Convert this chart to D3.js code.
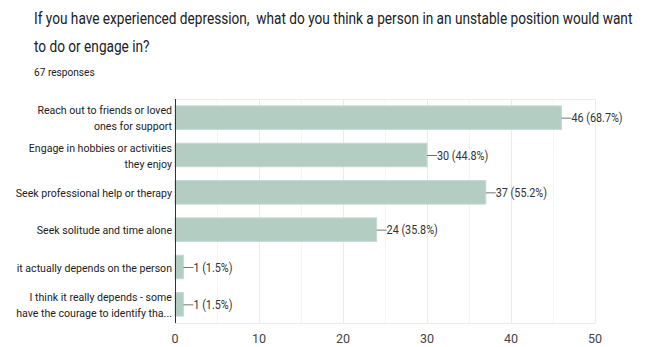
<!DOCTYPE html>
<html><head><meta charset="utf-8">
<script src="https://cdnjs.cloudflare.com/ajax/libs/d3/7.8.5/d3.min.js"></script>
<style>body{margin:0;background:#fff;} svg{display:block;}</style>
</head><body>
<script>
const titleLines = ["If you have experienced depression,  what do you think a person in an unstable position would want", "to do or engage in?"];
const subtitle = "67 responses";
const categories = [
  ["Reach out to friends or loved", "ones for support"],
  ["Engage in hobbies or activities", "they enjoy"],
  ["Seek professional help or therapy"],
  ["Seek solitude and time alone"],
  ["it actually depends on the person"],
  ["I think it really depends - some", "have the courage to identify tha..."]
];
const counts = [46, 30, 37, 24, 1, 1];
const percents = ["68.7%", "44.8%", "55.2%", "35.8%", "1.5%", "1.5%"];
const xTicks = [0, 10, 20, 30, 40, 50];
const minorTicks = [5, 15, 25, 35, 45];

const W = 652, H = 347;
const svg = d3.select("body").append("svg").attr("width", W).attr("height", H);

function squeeze(sel, f) {
  sel.each(function() {
    const w = this.getComputedTextLength();
    d3.select(this).attr("textLength", w * f).attr("lengthAdjust", "spacingAndGlyphs");
  });
}

const titleFont = "Roboto, 'Liberation Sans', Arial, sans-serif";
svg.selectAll("text.title").data(titleLines).join("text")
  .attr("class", "title")
  .attr("transform", (d, i) => `translate(34,${24 + i * 28}) scale(0.853,1)`)
  .attr("font-family", titleFont).attr("font-size", 16)
  .attr("fill", "#202124")
  .style("white-space", "pre")
  .text(d => d);
svg.append("text")
  .attr("transform", "translate(34,76) scale(0.88,1)")
  .attr("font-family", titleFont).attr("font-size", 11.5)
  .attr("fill", "#202124").text(subtitle);

const x = d3.scaleLinear().domain([0, 50]).range([175, 595]);
const y = d3.scaleBand().domain(d3.range(categories.length)).range([99, 323]).paddingInner(0.37).paddingOuter(0.185);

// grid
svg.append("g").selectAll("line").data(minorTicks).join("line")
  .attr("x1", d => x(d) + 0.5).attr("x2", d => x(d) + 0.5).attr("y1", 99).attr("y2", 323)
  .attr("stroke", "#f5f5f5");
svg.append("g").selectAll("line").data(xTicks.slice(1)).join("line")
  .attr("x1", d => x(d) + 0.5).attr("x2", d => x(d) + 0.5).attr("y1", 99).attr("y2", 323)
  .attr("stroke", "#ebebeb");
svg.append("line").attr("x1", 175).attr("x2", 595).attr("y1", 99.5).attr("y2", 99.5).attr("stroke", "#ebebeb");
svg.append("line").attr("x1", 175).attr("x2", 595).attr("y1", 323.5).attr("y2", 323.5).attr("stroke", "#ebebeb");

// bars
svg.append("g").selectAll("rect").data(counts).join("rect")
  .attr("x", x(0)).attr("y", (d, i) => y(i))
  .attr("width", d => x(d) - x(0)).attr("height", y.bandwidth())
  .attr("fill", "#b3cdc3").attr("stroke", "#c4dad1").attr("stroke-width", 1);

// value labels
const vl = svg.append("g").selectAll("g").data(counts).join("g");
vl.append("line").attr("x1", d => x(d)).attr("x2", d => x(d) + 10)
  .attr("y1", (d, i) => y(i) + y.bandwidth() / 2 + 0.5).attr("y2", (d, i) => y(i) + y.bandwidth() / 2 + 0.5)
  .attr("stroke", "#777").attr("stroke-width", 1);
const vt = vl.append("text").attr("x", d => x(d) + 10).attr("y", (d, i) => y(i) + y.bandwidth() / 2 + 4.5)
  .attr("font-family", "Roboto, Arial, sans-serif").attr("font-size", 12).attr("fill", "#333")
  .text((d, i) => `${d} (${percents[i]})`);
squeeze(vt, 0.9);

// axis line
svg.append("line").attr("x1", 175.5).attr("x2", 175.5).attr("y1", 99).attr("y2", 323).attr("stroke", "#333");

// category labels
const cl = svg.append("g").selectAll("text").data(categories).join("text")
  .attr("text-anchor", "end")
  .attr("font-family", "Roboto, Arial, sans-serif").attr("font-size", 11.5).attr("fill", "#222");
cl.each(function(lines, i) {
  const cy = y(i) + y.bandwidth() / 2;
  const n = lines.length;
  const ts = d3.select(this).selectAll("tspan").data(lines).join("tspan")
    .attr("x", 172)
    .attr("y", (l, j) => cy + 4.5 + (j - (n - 1) / 2) * 16)
    .text(l => l);
  squeeze(ts, 0.92);
});

// tick labels
svg.append("g").selectAll("text").data(xTicks).join("text")
  .attr("x", d => x(d)).attr("y", 343).attr("text-anchor", "middle")
  .attr("font-family", "Roboto, Arial, sans-serif").attr("font-size", 12.5).attr("fill", "#444")
  .text(d => d);
</script>
</body></html>
